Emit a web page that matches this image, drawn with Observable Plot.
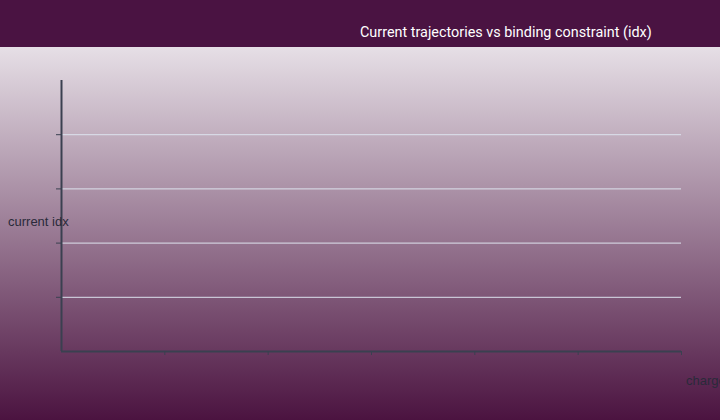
<!DOCTYPE html>
<html>
<head>
<meta charset="utf-8">
<script src="https://cdn.jsdelivr.net/npm/d3@7"></script>
<script src="https://cdn.jsdelivr.net/npm/@observablehq/plot@0.6"></script>
<style>
  html, body { margin: 0; padding: 0; }
  body { width: 720px; height: 420px; overflow: hidden; font-family: Roboto, sans-serif; position: relative; }
  #header { height: 47px; background: #4a1342; position: relative; }
  #title { position: absolute; left: 360px; top: 24px; color: #ffffff; font-size: 14.4px; white-space: nowrap; }
  #chart { position: relative; height: 373px; background: linear-gradient(to bottom, #e6dfe6 0%, #4b1340 100%); }
  .lab { position: absolute; font-family: "Liberation Sans", Arial, sans-serif; font-size: 13px; color: #2a2a3a; white-space: nowrap; line-height: 15px; }
  #ylabel { left: 8px; top: 167px; }
  #xlabel { left: 686px; top: 326px; }
  svg { display: block; background: transparent; }
</style>
</head>
<body>
<div id="header"><div id="title"></div></div>
<div id="chart"></div>
<script>
const titleText = "Current trajectories vs binding constraint (idx)";
const yLabelText = "current idx";
const xLabelText = "charge";
const xDomain = [0, 6];
const yDomain = [0, 5];
const xTicks = [1, 2, 3, 4, 5, 6];
const yTicks = [1, 2, 3, 4];
// series values (no data points visible in the reference)
const seriesX = [];
const seriesY = [];

const data = seriesX.map((x, i) => ({x, y: seriesY[i]}));

const plot = Plot.plot({
  width: 720,
  height: 373,
  marginTop: 33,
  marginBottom: 69,
  marginLeft: 61,
  marginRight: 39,
  style: { background: "transparent", fontFamily: "Roboto, sans-serif" },
  x: { domain: xDomain },
  y: { domain: yDomain },
  marks: [
    Plot.gridY(yTicks, { stroke: "#dde3ee", strokeOpacity: 1, strokeWidth: 1 }),
    Plot.axisY(yTicks, { tickFormat: () => "", tickSize: 5, stroke: "#3a4050", strokeOpacity: 1, label: null }),
    Plot.ruleX([xDomain[0]], { stroke: "#3a4050", strokeWidth: 2 }),
    Plot.ruleY([yDomain[0]], { stroke: "#3a4050", strokeWidth: 2 }),
    Plot.axisX(xTicks, { tickFormat: () => "", tickSize: 4, stroke: "#3a4050", strokeOpacity: 1, strokeWidth: 1, label: null }),
    Plot.line(data, { x: "x", y: "y", stroke: "#ffffff" })
  ]
});
const chart = document.getElementById("chart");
chart.appendChild(plot);
const yl = document.createElement("div"); yl.id = "ylabel"; yl.className = "lab"; yl.textContent = yLabelText; chart.appendChild(yl);
const xl = document.createElement("div"); xl.id = "xlabel"; xl.className = "lab"; xl.textContent = xLabelText; chart.appendChild(xl);
document.getElementById("title").textContent = titleText;
</script>
</body>
</html>
